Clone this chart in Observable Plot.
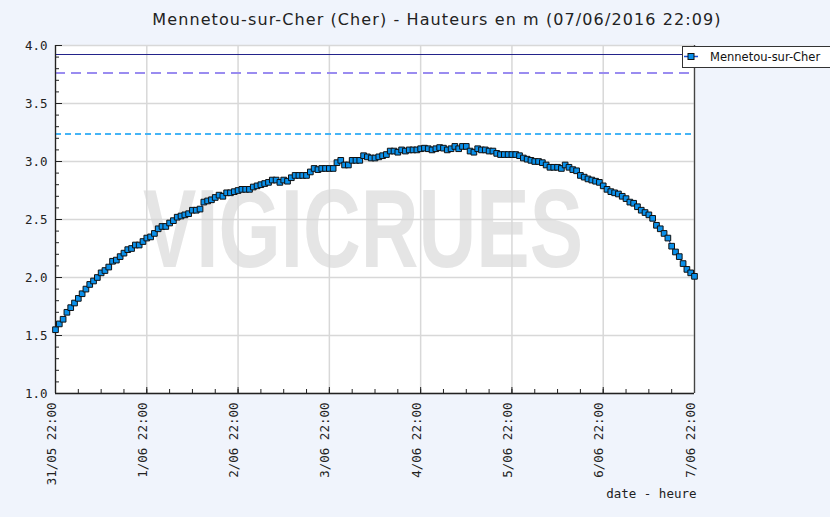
<!DOCTYPE html>
<html>
<head>
<meta charset="utf-8">
<script src="https://cdn.jsdelivr.net/npm/d3@7"></script>
<script src="https://cdn.jsdelivr.net/npm/@observablehq/plot@0.6"></script>
<style>
  html, body { margin: 0; padding: 0; overflow: hidden; background: #f0f4fc; }
  #page { position: relative; width: 830px; height: 517px; background: #f0f4fc; overflow: hidden; }
  #title { height: 36px; line-height: 40px; text-align: center; padding-left: 44px; box-sizing: border-box;
           font-family: "DejaVu Sans", sans-serif; font-size: 16px; letter-spacing: 1.1px; color: #222; }
  #legend { position: absolute; left: 682px; top: 46px; width: 160px; height: 22px; background: #fff;
            border: 1px solid #333; box-sizing: border-box; font-family: "DejaVu Sans", sans-serif; font-size: 11.5px; color: #111; }
  #legend svg { position: absolute; left: 0; top: 0; }
  #legend span { position: absolute; left: 27px; top: 3px; }
</style>
</head>
<body>
<div id="page">
  <div id="title">Mennetou-sur-Cher (Cher) - Hauteurs en m (07/06/2016 22:09)</div>
  <div id="chart"></div>
  <div id="legend"><svg width="26" height="20"><line x1="1" x2="15" y1="9.5" y2="9.5" stroke="#1a4fd0" stroke-width="1.5"/><rect x="5" y="6.5" width="6" height="6" fill="#0a90ea" stroke="#111" stroke-width="1"/></svg><span>Mennetou-sur-Cher</span></div>
</div>
<script>
// Hourly water heights (m) from 31/05/2016 22:00 to 07/06/2016 22:00
const heights = [
  1.55,1.60,1.64,1.70,1.74,1.78,1.82,1.86,1.90,1.94,1.97,2.00,2.04,2.06,2.09,2.14,2.15,2.18,2.21,2.24,2.25,2.28,2.28,2.31,2.34,2.35,2.38,2.42,2.44,2.44,2.47,2.49,2.52,2.53,2.54,2.55,2.58,2.58,2.59,2.65,2.66,2.67,2.69,
  2.71,2.70,2.73,2.73,2.74,2.75,2.76,2.76,2.76,2.78,2.79,2.80,2.81,2.82,2.84,2.84,2.82,2.84,2.83,2.86,2.88,2.88,2.88,2.88,2.91,2.94,2.93,2.94,2.94,2.94,2.94,2.99,3.01,2.97,2.97,3.01,3.01,3.01,3.05,3.04,3.03,
  3.03,3.04,3.05,3.06,3.09,3.09,3.08,3.10,3.09,3.10,3.10,3.10,3.11,3.115,3.11,3.10,3.11,3.12,3.115,3.10,3.11,3.13,3.11,3.13,3.13,3.09,3.08,3.11,3.10,3.10,3.09,3.09,3.07,3.06,3.06,3.06,3.06,3.06,3.05,3.03,3.02,3.01,
  3.00,3.00,2.99,2.97,2.95,2.95,2.95,2.94,2.97,2.95,2.93,2.92,2.88,2.865,2.85,2.84,2.83,2.82,2.79,2.76,2.74,2.73,2.72,2.70,2.68,2.65,2.64,2.61,2.58,2.56,2.54,2.51,2.45,2.42,2.38,2.34,2.27,2.22,2.18,2.12,2.07,2.04,2.01
];
const startTime = Date.UTC(2016, 4, 31, 22);
const stepHours = 1;
const xTickLabels = ["31/05 22:00","1/06 22:00","2/06 22:00","3/06 22:00","4/06 22:00","5/06 22:00","6/06 22:00","7/06 22:00"];
const yTicks = [1.0, 1.5, 2.0, 2.5, 3.0, 3.5, 4.0];
const thresholdValues = [3.92, 3.76, 3.24];
const thresholdColors = ["#23238a", "#9a8cf0", "#45b4f5"];
const thresholdWidths = [1.4, 2, 2];
const thresholdDashes = [null, "10,6", "6,4"];
const seriesName = "Mennetou-sur-Cher";
const watermark = "VIGICRUES";

const H = 3600e3;
const data = heights.map((v, i) => ({t: new Date(startTime + i * stepHours * H), v}));
const endTime = startTime + 168 * H;
const dayTicks = xTickLabels.map((s, i) => new Date(startTime + i * 24 * H));
const minorX = d3.range(0, 29).map(i => new Date(startTime + i * 6 * H));
const minorY = d3.range(10, 41).map(i => i / 10);

const W = 830, SH = 481;
const mL = 55, mR = 136, mT = 9, mB = 124;
const fw = W - mL - mR, fh = SH - mT - mB;
const mono = "DejaVu Sans Mono, monospace";

const thresholdMarks = thresholdValues.map((v, i) =>
  Plot.ruleY([v], {stroke: thresholdColors[i], strokeWidth: thresholdWidths[i], shapeRendering: "crispEdges",
    strokeDasharray: thresholdDashes[i] || undefined}));

const chart = Plot.plot({
  width: W, height: SH,
  marginLeft: mL, marginRight: mR, marginTop: mT, marginBottom: mB,
  style: {background: "transparent", overflow: "visible"},
  x: {type: "utc", domain: [new Date(startTime), new Date(endTime)], axis: null},
  y: {domain: [1, 4], axis: null},
  marks: [
    Plot.frame({fill: "white", stroke: "none"}),
    Plot.text([watermark], {frameAnchor: "middle", dx: -12, dy: 12, text: d => d, fontSize: 112, fontWeight: "bold",
      fontFamily: "Liberation Sans, Arial, sans-serif", fill: "#e5e5e5", className: "wm"}),
    Plot.gridY(yTicks, {stroke: "#d8d8d8", strokeOpacity: 1, strokeWidth: 1.5}),
    Plot.gridX(dayTicks, {stroke: "#d8d8d8", strokeOpacity: 1, strokeWidth: 1.5}),
    ...thresholdMarks,
    Plot.tickY(minorY, {y: d => d, stroke: "#222", insetRight: fw - 4}),
    Plot.tickY(yTicks, {y: d => d, stroke: "#222", insetRight: fw - 7}),
    Plot.tickX(minorX, {x: d => d, stroke: "#222", insetTop: fh - 4}),
    Plot.tickX(dayTicks, {x: d => d, stroke: "#222", insetTop: fh - 6}),
    Plot.ruleX([new Date(endTime)], {stroke: "#444", strokeWidth: 1.3}),
    Plot.ruleX([new Date(startTime)], {stroke: "#222", strokeWidth: 1.3}),
    Plot.ruleY([1], {stroke: "#222", strokeWidth: 1.3}),
    Plot.line(data, {x: "t", y: "v", stroke: "#1a4fd0", strokeWidth: 1}),
    Plot.dot(data, {x: "t", y: "v", symbol: "square", r: 3.2, fill: "#0a90ea", stroke: "#111", strokeWidth: 1}),
    Plot.text(yTicks, {y: d => d, text: d => d.toFixed(1), frameAnchor: "left", textAnchor: "end", dx: -8,
      fontFamily: mono, fontSize: 12.5, fill: "#222"}),
    Plot.text(dayTicks, {x: d => d, text: (d, i) => xTickLabels[i], frameAnchor: "bottom", rotate: -90, textAnchor: "end",
      dy: 9, fontFamily: mono, fontSize: 12.5, fill: "#222"}),
    Plot.text(["date - heure"], {frameAnchor: "bottom-right", text: d => d, textAnchor: "end", dy: 104, dx: 2,
      fontFamily: mono, fontSize: 12.5, fill: "#222"})
  ]
});
document.getElementById("chart").appendChild(chart);
const wm = chart.querySelector(".wm text");
if (wm) { wm.setAttribute("textLength", "440"); wm.setAttribute("lengthAdjust", "spacingAndGlyphs"); }
</script>
</body>
</html>
